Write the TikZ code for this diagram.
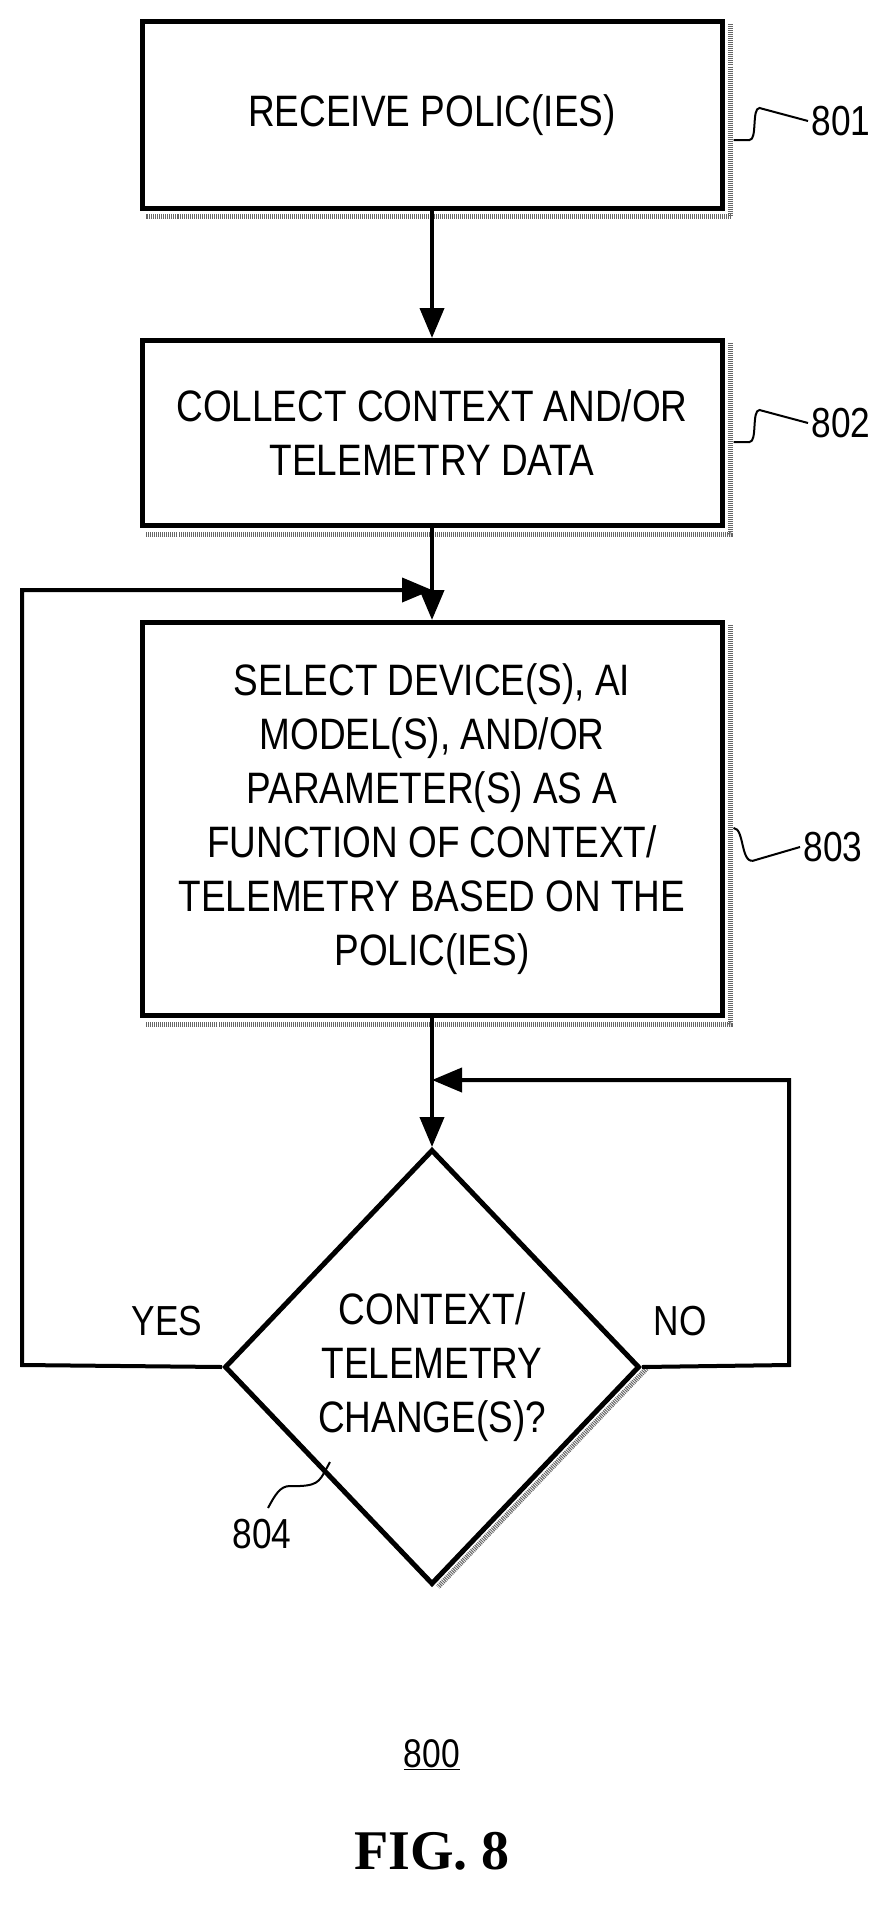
\documentclass[tikz,border=0pt]{standalone}
\usepackage{fontspec}
\setmainfont{Liberation Sans}[FakeStretch=0.84]
\newfontfamily\figfont{Liberation Serif}
\usetikzlibrary{shapes.geometric,arrows.meta}
\begin{document}
\begin{tikzpicture}[x=1pt,y=-1pt,
  box/.style={draw,line width=5pt,minimum width=580pt,align=center,font=\fontsize{44}{54}\selectfont,inner sep=0pt},
  dia/.style={draw,diamond,line width=5pt,minimum width=415pt,minimum height=435pt,align=center,font=\fontsize{44}{54}\selectfont,inner sep=0pt},
  line/.style={line width=4pt},
  arr/.style={line width=4pt,-{Triangle[length=30pt,width=24pt]}},
  lab/.style={font=\fontsize{42}{46}\selectfont},
  lead/.style={line width=2pt},
  shadow/.style={line width=5pt,draw=black!60,dash pattern=on 1pt off 1pt}]
\useasboundingbox (0,0) rectangle (896,1911);
\node[box,minimum height=186pt] (b1) at (432,115) {RECEIVE POLIC(IES)};
\node[box,minimum height=185pt] (b2) at (432,433) {COLLECT CONTEXT AND/OR\\TELEMETRY DATA};
\node[box,minimum height=393pt] (b3) at (432,819) {SELECT DEVICE(S), AI\\MODEL(S), AND/OR\\PARAMETER(S) AS A\\FUNCTION OF CONTEXT/\\TELEMETRY BASED ON THE\\POLIC(IES)};
\node[dia] (d) at (432,1367) {CONTEXT/\\TELEMETRY\\CHANGE(S)?};
\foreach \n in {b1,b2,b3}{
  \draw[shadow] ([shift={(6,5)}]\n.north east) -- ([shift={(6,6)}]\n.south east) -- ([shift={(6,6)}]\n.south west);}
\draw[shadow] ([shift={(6,0)}]d.east) -- ([shift={(6,0)}]d.south);
\coordinate (j1) at (432,590);
\coordinate (j2) at (432,1080);
\coordinate (l1) at (22,590);
\coordinate (l2) at (22,1365);
\coordinate (r1) at (789,1080);
\coordinate (r2) at (789,1365);
\draw[arr] (b1) -- (b2);
\draw[arr] (b2) -- (b3);
\draw[arr] (d.west) -- (l2) -- (l1) -- (j1);
\draw[arr] (b3) -- (d);
\draw[arr] (d.east) -- (r2) -- (r1) -- (j2);
\node[lab] (yes) at (167,1321) {YES};
\node[lab] (no) at (680,1321) {NO};
\node[lab,anchor=west] (n1) at (808,121) {801};
\node[lab,anchor=west] (n2) at (808,423) {802};
\node[lab,anchor=west] (n3) at (800,847) {803};
\node[lab] (n4) at (262,1534) {804};
\draw[lead] ([xshift=9pt]b1.east|-0,140) -- ++(16,0) .. controls +(8,0) and +(-8,0) .. ++(10,-32) -- (n1.west);
\draw[lead] ([xshift=9pt]b2.east|-0,442) -- ++(16,0) .. controls +(8,0) and +(-8,0) .. ++(10,-32) -- (n2.west);
\draw[lead] ([xshift=9pt]b3.east|-0,828) .. controls (745,828) and (740,867) .. ++(22,32) -- (n3.west);
\draw[lead] (330,1462) .. controls (320,1480) and (320,1485) .. (300,1486) -- (290,1486) .. controls (280,1486) and (275,1495) .. (268,1508);
\node[lab,font=\fontsize{40}{44}\selectfont] (n0) at (432,1755) {\underline{800}};
\node[font=\figfont\bfseries\fontsize{56}{64}\selectfont] (fig) at (432,1851) {FIG. 8};
\end{tikzpicture}
\end{document}
